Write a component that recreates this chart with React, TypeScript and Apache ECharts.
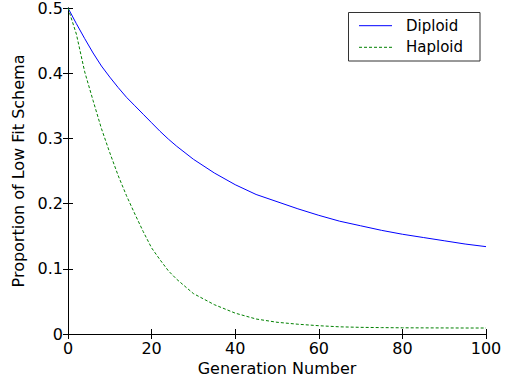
import React, { useEffect, useRef } from "react";
import * as echarts from "echarts";

const generations = [0, 2, 4, 6, 8, 10, 12, 14, 16, 18, 20, 22, 24, 26, 28, 30, 35, 40, 45, 50, 55, 60, 65, 70, 75, 80, 85, 90, 95, 100];
const diploid = [0.5, 0.476, 0.453, 0.431, 0.411, 0.394, 0.378, 0.363, 0.35, 0.337, 0.324, 0.311, 0.299, 0.288, 0.278, 0.268, 0.247, 0.229, 0.214, 0.203, 0.192, 0.182, 0.173, 0.166, 0.159, 0.153, 0.148, 0.143, 0.138, 0.134];
const haploid = [0.5, 0.46, 0.402, 0.358, 0.315, 0.278, 0.243, 0.212, 0.184, 0.157, 0.132, 0.114, 0.097, 0.084, 0.073, 0.062, 0.045, 0.032, 0.023, 0.018, 0.015, 0.0127, 0.011, 0.0102, 0.0098, 0.0095, 0.0094, 0.0093, 0.0092, 0.0092];
const seriesNames = ["Diploid", "Haploid"];
const seriesColors = ["#0000ff", "#008000"];
const xTitle = "Generation Number";
const yTitle = "Proportion of Low Fit Schema";

const FONT = "'DejaVu Sans', Verdana, sans-serif";

export default function App() {
  const ref = useRef<HTMLDivElement>(null);
  useEffect(() => {
    if (!ref.current) return;
    const chart = echarts.init(ref.current, undefined, { renderer: "svg" });
    const axisLine = { show: true, lineStyle: { color: "#000", width: 1 } };
    const tick = { show: true, inside: true, length: 5, lineStyle: { color: "#000" } };
    const label = { color: "#000", fontFamily: FONT, fontSize: 16 };
    const legendRows = [25.7, 47.3];
    const legendGraphics: any[] = [
      {
        type: "rect",
        shape: { x: 348.5, y: 12.5, width: 131.5, height: 48.5 },
        style: { fill: "#fff", stroke: "#333", lineWidth: 1 },
        z: 100,
      },
    ];
    seriesNames.forEach((n, i) => {
      legendGraphics.push({
        type: "line",
        shape: { x1: 359, y1: legendRows[i], x2: 392, y2: legendRows[i] },
        style: { stroke: seriesColors[i], lineWidth: 1, lineDash: i === 0 ? null : [3, 2] },
        z: 101,
      });
      legendGraphics.push({
        type: "text",
        x: 406,
        y: legendRows[i],
        style: {
          text: n,
          fill: "#000",
          font: `15px ${FONT}`,
          textVerticalAlign: "middle",
          verticalAlign: "middle",
          textAlign: "left",
        },
        z: 101,
      });
    });
    chart.setOption({
      animation: false,
      backgroundColor: "#fff",
      textStyle: { fontFamily: FONT },
      grid: { left: 68, right: 27, top: 7, bottom: 54, containLabel: false },
      graphic: legendGraphics,
      xAxis: [
        {
          type: "value",
          min: 0,
          max: 100,
          interval: 20,
          position: "bottom",
          name: xTitle,
          nameLocation: "middle",
          nameGap: 24,
          nameTextStyle: { color: "#000", fontFamily: FONT, fontSize: 16 },
          axisLine,
          axisTick: tick,
          axisLabel: { ...label, margin: 6 },
          splitLine: { show: false },
        },
        {
          type: "value",
          min: 0,
          max: 100,
          interval: 20,
          position: "top",
          axisLine,
          axisTick: tick,
          axisLabel: { show: false },
          splitLine: { show: false },
        },
      ],
      yAxis: [
        {
          type: "value",
          min: 0,
          max: 0.5,
          interval: 0.1,
          position: "left",
          name: yTitle,
          nameLocation: "middle",
          nameGap: 39,
          nameTextStyle: { color: "#000", fontFamily: FONT, fontSize: 16 },
          axisLine,
          axisTick: tick,
          axisLabel: { ...label, margin: 5 },
          splitLine: { show: false },
        },
        {
          type: "value",
          min: 0,
          max: 0.5,
          interval: 0.1,
          position: "right",
          axisLine,
          axisTick: tick,
          axisLabel: { show: false },
          splitLine: { show: false },
        },
      ],
      series: [
        {
          name: seriesNames[0],
          type: "line",
          data: generations.map((g, i) => [g, diploid[i]]),
          symbol: "none",
          color: seriesColors[0],
          lineStyle: { color: seriesColors[0], width: 1, type: "solid" },
        },
        {
          name: seriesNames[1],
          type: "line",
          data: generations.map((g, i) => [g, haploid[i]]),
          symbol: "none",
          color: seriesColors[1],
          lineStyle: { color: seriesColors[1], width: 1, type: [3, 2] },
        },
      ],
    });
    return () => chart.dispose();
  }, []);
  return <div ref={ref} style={{ width: 513, height: 388, position: "absolute", left: 0, top: 0 }} />;
}
